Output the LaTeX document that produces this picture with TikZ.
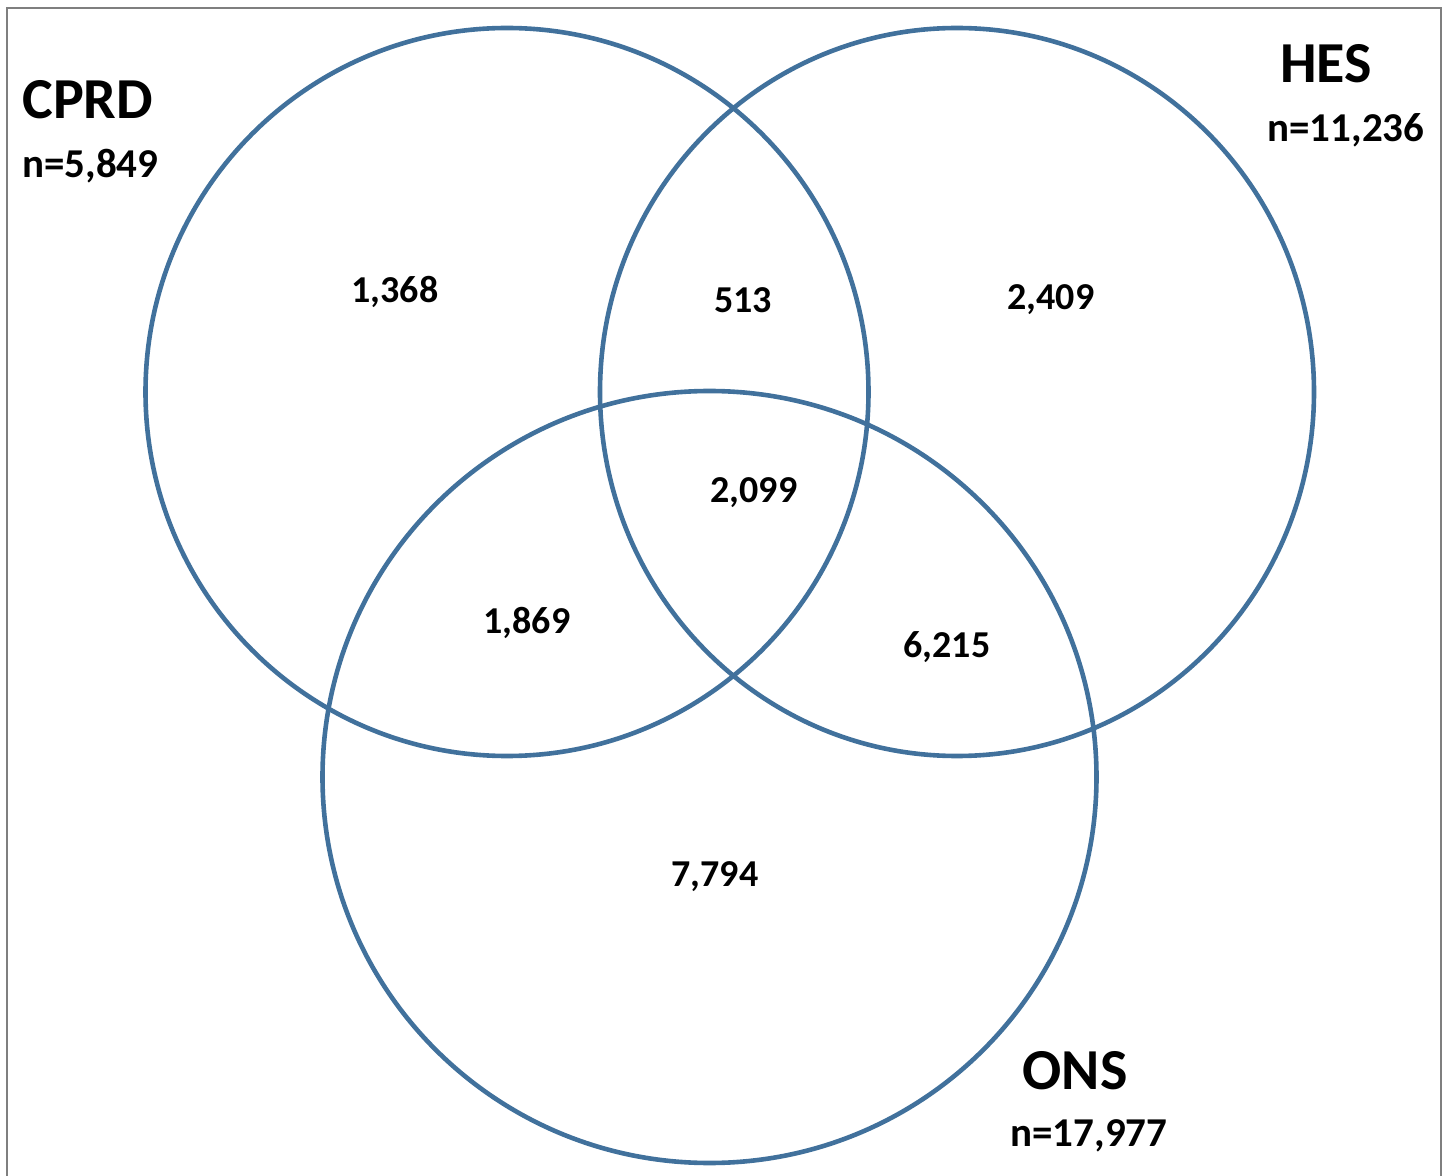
\documentclass[tikz,border=0pt]{standalone}
\usepackage{fontspec}
\setmainfont{Carlito}
\usetikzlibrary{shapes.geometric}
\definecolor{vennBlue}{HTML}{41719C}
\definecolor{frameGrey}{HTML}{7F7F7F}
\tikzset{
  vennCircle/.style={draw=vennBlue,line width=2.3pt,ellipse,inner sep=0pt,fill=none},
  setName/.style={font=\fontsize{29}{32}\selectfont\bfseries,text=black,inner sep=0pt},
  setSize/.style={font=\fontsize{20.5}{23}\selectfont\bfseries,text=black,inner sep=0pt},
  regionCount/.style={font=\fontsize{19}{22}\selectfont\bfseries,text=black,inner sep=0pt},
  frameLine/.style={draw=frameGrey,line width=1pt},
}
\begin{document}
\begin{tikzpicture}[x=0.5pt,y=-0.5pt]
\useasboundingbox (0,0) rectangle (1447,1176);

% Open frame (cut off at the bottom).
\coordinate (frameBL) at (7,1176);
\coordinate (frameTL) at (7,8);
\coordinate (frameTR) at (1441,8);
\coordinate (frameBR) at (1441,1176);
\draw[frameLine] (frameBL) -- (frameTL) -- (frameTR) -- (frameBR);

% The three sets.
\node[vennCircle,minimum width=361.5pt,minimum height=364pt] (cprd) at (507,392) {};
\node[vennCircle,minimum width=357pt,minimum height=364pt]   (hes)  at (957,392) {};
\node[vennCircle,minimum width=387pt,minimum height=386pt]   (ons)  at (709.5,777) {};

% Set names and totals.
\node[setName,anchor=west] (cprdName) at (22,100) {CPRD};
\node[setSize,anchor=west] (cprdSize) at (22,166) {n=5,849};
\node[setName] (hesName) at (1326,64) {HES};
\node[setSize] (hesSize) at (1346,130) {n=11,236};
\node[setName] (onsName) at (1075,1071) {ONS};
\node[setSize] (onsSize) at (1089,1136) {n=17,977};

% Counts per region.
\node[regionCount] (onlyCprd)   at (395,292) {1,368};
\node[regionCount] (cprdHes)    at (743,300) {513};
\node[regionCount] (onlyHes)    at (1051,300) {2,409};
\node[regionCount] (allThree)   at (754,493) {2,099};
\node[regionCount] (cprdOns)    at (527,623) {1,869};
\node[regionCount] (hesOns)     at (947,647) {6,215};
\node[regionCount] (onlyOns)    at (715,877) {7,794};

\end{tikzpicture}
\end{document}
